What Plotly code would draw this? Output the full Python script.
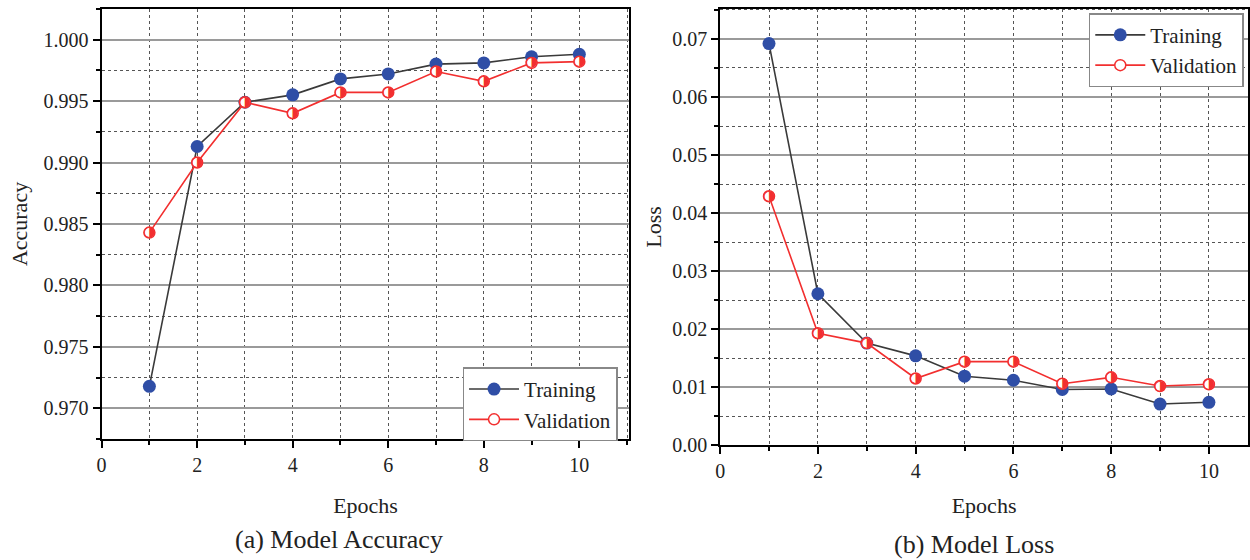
import plotly.graph_objects as go

epochs = [1, 2, 3, 4, 5, 6, 7, 8, 9, 10]
train_acc = [0.9718, 0.9913, 0.9949, 0.9955, 0.9968, 0.9972, 0.9980, 0.9981, 0.9986, 0.9988]
val_acc = [0.9843, 0.9900, 0.9949, 0.9940, 0.9957, 0.9957, 0.9974, 0.9966, 0.9981, 0.9982]
train_loss = [0.0692, 0.0261, 0.0176, 0.0154, 0.0119, 0.0112, 0.0096, 0.0097, 0.0071, 0.0074]
val_loss = [0.0429, 0.0193, 0.0176, 0.0115, 0.0144, 0.0144, 0.0106, 0.0117, 0.0102, 0.0105]

FONT = "Liberation Serif"
TRAIN_LINE = "#3a3a3a"
TRAIN_MARK = "#2f4ea6"
VAL = "#f22f2f"

fig = go.Figure()


def add_pair(train, val, xa, ya, legend):
    fig.add_trace(go.Scatter(
        x=epochs, y=train, mode="lines+markers", name="Training",
        xaxis=xa, yaxis=ya, legend=legend,
        line=dict(color=TRAIN_LINE, width=1.6),
        marker=dict(symbol="circle", size=13, color=TRAIN_MARK,
                    line=dict(width=0)),
    ))
    fig.add_trace(go.Scatter(
        x=epochs, y=val, mode="lines+markers", name="Validation",
        xaxis=xa, yaxis=ya, legend=legend,
        line=dict(color=VAL, width=1.6),
        marker=dict(symbol="circle", size=11, color="white",
                    line=dict(color=VAL, width=1.5)),
    ))
    # right half of each validation marker filled in red
    fig.add_trace(go.Scatter(
        x=epochs, y=val, mode="text", text=["\u25D1"] * len(val),
        textposition="middle center", showlegend=False, hoverinfo="skip",
        xaxis=xa, yaxis=ya,
        textfont=dict(family="DejaVu Sans", size=14, color=VAL),
    ))


add_pair(train_acc, val_acc, "x", "y", "legend")
add_pair(train_loss, val_loss, "x2", "y2", "legend2")

tickfont = dict(family=FONT, size=20, color="#222")
titlefont = dict(family=FONT, size=22, color="#222")


def xaxis(domain, rng, anchor, standoff):
    return dict(
        domain=domain, range=rng, anchor=anchor,
        tickmode="linear", tick0=0, dtick=2,
        ticks="outside", ticklen=7, tickwidth=2, tickcolor="black",
        showline=True, linecolor="black", linewidth=2, mirror=True,
        showgrid=True, gridcolor="#555", griddash="dot", gridwidth=1,
        minor=dict(dtick=1, tick0=0, ticks="outside", ticklen=4,
                   tickcolor="black", showgrid=True, gridcolor="#555",
                   griddash="dot", gridwidth=1),
        tickfont=tickfont, zeroline=False,
        title=dict(text="Epochs", font=titlefont, standoff=standoff),
    )


def yaxis(domain, rng, anchor, dtick, tick0, fmt, title, standoff):
    return dict(
        domain=domain, range=rng, anchor=anchor,
        tickmode="linear", tick0=tick0, dtick=dtick, tickformat=fmt,
        ticks="outside", ticklen=7, tickwidth=2, tickcolor="black",
        showline=True, linecolor="black", linewidth=2, mirror=True,
        showgrid=True, gridcolor="#9a9a9a", gridwidth=1.6,
        minor=dict(dtick=dtick / 2, tick0=tick0, ticks="outside", ticklen=4,
                   tickcolor="black", showgrid=True, gridcolor="#555",
                   griddash="dot", gridwidth=1),
        tickfont=tickfont, zeroline=False,
        title=dict(text=title, font=titlefont, standoff=standoff),
    )


legend_common = dict(
    font=dict(family=FONT, size=21, color="#222"),
    bgcolor="white", bordercolor="#888", borderwidth=1.5,
    itemwidth=50, tracegroupgap=0,
)

fig.update_layout(
    width=1250, height=560,
    font=dict(family=FONT, color="#222"),
    margin=dict(l=0, r=0, t=0, b=0),
    paper_bgcolor="white", plot_bgcolor="white",
    xaxis=xaxis([0.0776, 0.5016], [0, 11.05], "y", 22),
    yaxis=yaxis([0.2, 0.984], [0.9675, 1.0025], "x", 0.005, 0.97, ".3f", "Accuracy", 10),
    xaxis2=xaxis([0.5744, 0.9984], [0, 10.8], "y2", 16),
    yaxis2=yaxis([0.189, 0.984], [0, 0.0752], "x2", 0.01, 0, ".2f", "Loss", 4),
    legend=dict(x=0.492, y=0.196, xanchor="right", yanchor="bottom", **legend_common),
    legend2=dict(x=0.995, y=0.976, xanchor="right", yanchor="top", **legend_common),
    annotations=[
        dict(text="(a) Model Accuracy", x=0.268, y=1 - 550 / 560, xref="paper", yref="paper",
             xanchor="center", yanchor="middle",
             showarrow=False, font=dict(family=FONT, size=26, color="#222")),
        dict(text="(b) Model Loss", x=0.778, y=1 - 555 / 560, xref="paper", yref="paper",
             xanchor="center", yanchor="middle",
             showarrow=False, font=dict(family=FONT, size=26, color="#222")),
    ],
)

fig.write_html("out.html")
